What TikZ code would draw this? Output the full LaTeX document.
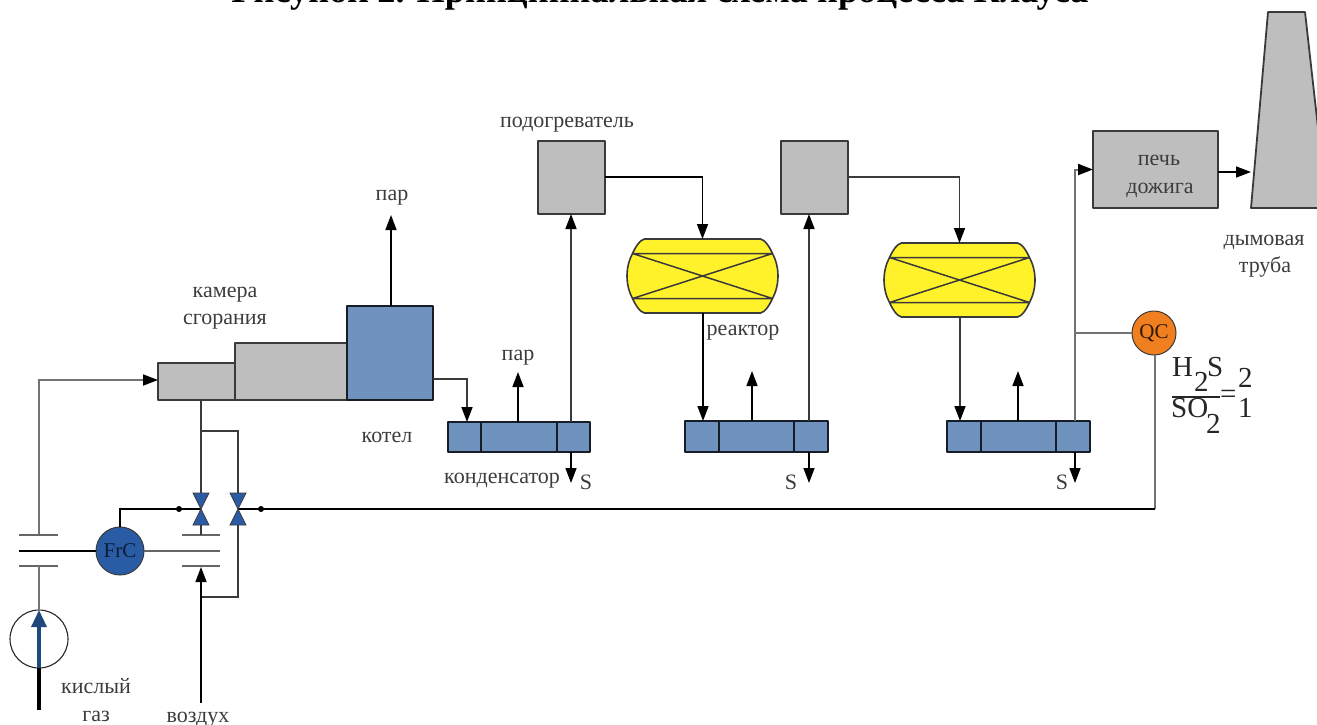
\documentclass[tikz,border=0pt]{standalone}
\usepackage{fontspec}
\setmainfont{Liberation Serif}
\usetikzlibrary{arrows.meta,calc}
\definecolor{boxgray}{HTML}{BEBEBE}
\definecolor{boxblue}{HTML}{6F92BE}
\definecolor{frcblue}{HTML}{2A5CA6}
\definecolor{pumpblue}{HTML}{1F497D}
\definecolor{reactyellow}{HTML}{FFF22A}
\definecolor{qcorange}{HTML}{F07F20}
\definecolor{inkgray}{HTML}{3A3A3A}
\definecolor{txtgray}{HTML}{3C3C3C}
\tikzset{
  unit/.style={draw=inkgray,line width=1.8pt,inner sep=0pt,outer sep=0pt,line join=round},
  graybox/.style={unit,fill=boxgray},
  bluebox/.style={unit,fill=boxblue,draw=black!80!boxblue},
  lbl/.style={font=\fontsize{22}{24}\selectfont,text=txtgray,inner sep=0pt,anchor=base},
  flow/.style={draw=black,line width=1.5pt},
  darkflow/.style={draw=inkgray,line width=1.6pt},
  grayflow/.style={draw=black!55,line width=2pt},
  tip/.style={-{Triangle[length=15pt,width=11pt,color=black]}},
  plate/.style={draw=black!60,line width=2pt},
  dotmark/.style={circle,fill=black,inner sep=0pt,minimum size=6pt},
  formula/.style={font=\fontsize{29}{30}\selectfont,text=black!85,inner sep=0pt,anchor=base west},
}
\newcommand{\rectnode}[6]{% style name x1 y1 x2 y2
  \pgfmathsetmacro{\rcx}{(#3+#5)/2}\pgfmathsetmacro{\rcy}{(#4+#6)/2}
  \pgfmathsetmacro{\rw}{#5-#3}\pgfmathsetmacro{\rh}{#6-#4}
  \node[#1,minimum width=\rw pt,minimum height=\rh pt] (#2) at (\rcx,\rcy) {};}
\newcommand{\reactorshape}[3]{% name cx cy
  \node[minimum width=151pt,minimum height=74pt,inner sep=0pt,outer sep=0pt] (#1) at (#2,#3) {};
  \begin{scope}[shift={(#2,#3)}]
  \draw[draw=inkgray,line width=1.6pt,fill=reactyellow] (-58,-37) -- (58,-37)
    .. controls (63,-36) and (67,-29) .. (70,-22.5)
    .. controls (73.5,-16) and (75.5,-8) .. (75.5,0)
    .. controls (75.5,8) and (73.5,16) .. (70,22.5)
    .. controls (67,29) and (63,36) .. (58,37) -- (-58,37)
    .. controls (-63,36) and (-67,29) .. (-70,22.5)
    .. controls (-73.5,16) and (-75.5,8) .. (-75.5,0)
    .. controls (-75.5,-8) and (-73.5,-16) .. (-70,-22.5)
    .. controls (-67,-29) and (-63,-36) .. (-58,-37) -- cycle;
  \draw[draw=inkgray,line width=1.5pt] (-70,-22.5) -- (70,-22.5) (-70,22.5) -- (70,22.5)
    (-70,-22.5) -- (70,22.5) (-70,22.5) -- (70,-22.5);
  \end{scope}}
\newcommand{\valveshape}[3]{% name cx cy
  \node[minimum width=16pt,minimum height=32pt,inner sep=0pt,outer sep=0pt] (#1) at (#2,#3) {};
  \begin{scope}[shift={(#2,#3)}]
  \fill[frcblue,draw=inkgray,line width=.7pt] (-8,-16) -- (8,-16) -- (0,0) -- cycle;
  \fill[frcblue,draw=inkgray,line width=.7pt] (-8,16) -- (8,16) -- (0,0) -- cycle;
  \end{scope}}
\begin{document}
\begin{tikzpicture}[x=1pt,y=-1pt]
\useasboundingbox (0,0) rectangle (1317,724);
% title
\node[anchor=base,inner sep=0pt,font=\bfseries\fontsize{36.3}{38}\selectfont] (title) at (660,2.5) {Рисунок 2. Принципиальная схема процесса Клауса};
% units
\rectnode{graybox}{ch1}{158}{363}{235}{400}
\rectnode{graybox}{ch2}{235}{343}{347}{400}
\rectnode{bluebox}{boil}{347}{306}{433}{400}
\rectnode{graybox}{ph1}{538}{141}{605}{214}
\rectnode{graybox}{ph2}{781}{141}{848}{214}
\rectnode{graybox}{burn}{1093}{131}{1218}{208}
\rectnode{bluebox}{c1}{448}{422}{590}{452}
\rectnode{bluebox}{c2}{685}{421}{828}{452}
\rectnode{bluebox}{c3}{947}{421}{1090}{452}
\foreach \x in {481,557} {\draw[draw=black!80!boxblue,line width=1.6pt] (\x,422) -- (\x,452);}
\foreach \x in {719,794} {\draw[draw=black!80!boxblue,line width=1.6pt] (\x,421) -- (\x,452);}
\foreach \x in {981,1056} {\draw[draw=black!80!boxblue,line width=1.6pt] (\x,421) -- (\x,452);}
\reactorshape{r1}{702.5}{276}
\reactorshape{r2}{959.5}{280}
% stack
\draw[draw=inkgray,line width=1.8pt,fill=boxgray,line join=round] (1268,12) -- (1305,12) -- (1327,208) -- (1251,208) -- cycle;
\coordinate (stackin) at (1251,172);
% named points
\coordinate (boilout) at (433,379);
\coordinate (c1in) at (467,422);
\coordinate (c2in) at (703,421);
\coordinate (c3in) at (960,421);
\coordinate (c1up) at (518,422);
\coordinate (c1upend) at (518,372);
\coordinate (c2up) at (752,421);
\coordinate (c2upend) at (752,371);
\coordinate (c3up) at (1018,421);
\coordinate (c3upend) at (1018,371);
\coordinate (p1x) at (571,422);
\coordinate (p2x) at (809,421);
\coordinate (p3x) at (1075,421);
\coordinate (s1) at (571,483);
\coordinate (s2) at (809,483);
\coordinate (s3) at (1075,483);
\coordinate (ph1out) at (605,177);
\coordinate (ph2out) at (848,177);
\coordinate (steamend) at (391,215);
\coordinate (qctap) at (1075,333);
\coordinate (sigcorner) at (1155,509);
\coordinate (gasin) at (39,380);
\coordinate (gasknee) at (143,380);
\coordinate (gastop) at (39,534);
\coordinate (gaslow) at (39,566);
\coordinate (gasbot) at (39,710);
\coordinate (gasmid) at (39,668);
\coordinate (gastip) at (39,610);
\coordinate (airbot) at (201,703);
\coordinate (airtip) at (201,567);
\coordinate (airtap) at (201,597);
\coordinate (burntap) at (201,431);
\coordinate (ch1low) at (201,400);
\coordinate (plate2top) at (201,535);
\coordinate (frcup) at (120,509);
% instruments
\node[circle,draw=inkgray,line width=1pt,fill=frcblue,minimum size=48pt,inner sep=0pt,outer sep=0pt,font=\fontsize{21}{22}\selectfont,text=black!70!frcblue] (frc) at (120,551) {FrC};
\node[circle,draw=inkgray,line width=1pt,fill=qcorange,minimum size=44pt,inner sep=0pt,outer sep=0pt,font=\fontsize{21}{22}\selectfont,text=black!80!qcorange] (qc) at (1154,333) {QC};
\node[circle,draw=black!85,line width=1.1pt,minimum size=58pt,inner sep=0pt,outer sep=0pt] (pump) at (39,639) {};
% orifice plates
\coordinate (a1) at (19,535); \coordinate (a2) at (58,535);
\coordinate (a3) at (19,566); \coordinate (a4) at (58,566);
\coordinate (a5) at (19,551);
\coordinate (b1) at (182,535); \coordinate (b2) at (220,535);
\coordinate (b3) at (182,566); \coordinate (b4) at (220,566);
\coordinate (b5) at (220,551);
\draw[plate] (a1) -- (a2) (a3) -- (a4) (b1) -- (b2) (b3) -- (b4);
\draw[draw=black,line width=1.5pt] (a5) -- (frc.west);
\draw[plate] (frc.east) -- (b5);
% connectors
\draw[flow,tip] (boil.north -| steamend) -- (steamend);
\draw[darkflow,tip] (boilout) -| (c1in);
\draw[flow,tip] (c1up) -- (c1upend);
\draw[darkflow,tip] (p1x) -- (ph1.south -| p1x);
\draw[flow,tip] (c1.south -| p1x) -- (s1);
\draw[flow,tip] (ph1out) -| (r1.north);
\draw[flow,tip] (r1.south -| c2in) -- (c2in);
\draw[flow,tip] (c2up) -- (c2upend);
\draw[darkflow,tip] (p2x) -- (ph2.south -| p2x);
\draw[flow,tip] (c2.south -| p2x) -- (s2);
\draw[darkflow,tip] (ph2out) -| (r2.north);
\draw[darkflow,tip] (r2.south -| c3in) -- (c3in);
\draw[flow,tip] (c3up) -- (c3upend);
\draw[grayflow,tip] (p3x) |- (burn.west);
\draw[flow,tip] (c3.south -| p3x) -- (s3);
\draw[flow,tip] (burn.east |- stackin) -- (stackin);
\draw[grayflow] (qctap) -- (qc.west);
\draw[grayflow] (qc.south -| sigcorner) -- (sigcorner);
\draw[draw=black,line width=1.6pt] (sigcorner) -- (238,509);
\node[dotmark] (dot2) at (261,509) {};
\draw[flow] (frc.north) -- (frcup) -- (201,509);
\node[dotmark] (dot1) at (179,509) {};
\draw[grayflow,line width=1.8pt] (gastop) |- (gasknee);
\draw[grayflow,line width=1.8pt,tip] (gasknee) -- (ch1.west |- gasin);
\draw[grayflow,line width=1.6pt] (gaslow) -- (pump.north);
\draw[darkflow] (ch1low) -- (201,493);
\draw[darkflow] (burntap) -| (238,493);
\draw[darkflow] (201,525) -- (plate2top);
\draw[darkflow] (238,525) |- (airtap);
\draw[flow,tip] (airbot) -- (airtip);
\valveshape{v1}{201}{509}
\valveshape{v2}{238}{509}
% feed pump stream
\draw[draw=black,line width=3.2pt] (gasbot) -- (gasmid);
\draw[draw=pumpblue,line width=3.4pt,-{Triangle[length=17pt,width=15pt]}] (gasmid) -- (gastip);
% labels
\node[lbl] (l1) at (392,200) {пар};
\node[lbl] (l2) at (225,297) {камера};
\node[lbl] (l2b) at (225,324) {сгорания};
\node[lbl] (l3) at (387,442) {котел};
\node[lbl] (l4) at (518,360) {пар};
\node[lbl] (l5) at (567,127) {подогреватель};
\node[lbl] (l6) at (502,483) {конденсатор};
\node[lbl] (l7) at (743,335) {реактор};
\node[lbl] (l8) at (1159,165) {печь};
\node[lbl] (l8b) at (1160,193) {дожига};
\node[lbl] (l9) at (1264,245) {дымовая};
\node[lbl] (l9b) at (1265,272) {труба};
\node[lbl] (l10) at (96,693) {кислый};
\node[lbl] (l11) at (96,721) {газ};
\node[lbl] (l12) at (198,722) {воздух};
\node[lbl] (s1l) at (586,489) {S};
\node[lbl] (s2l) at (791,489) {S};
\node[lbl] (s3l) at (1062,489) {S};
% formula
\node[formula] (fH) at (1172,376) {H};
\node[formula] (f2a) at (1194,391) {2};
\node[formula] (fS) at (1207,376) {S};
\node[formula] (fSO) at (1171,417) {SO};
\node[formula] (f2b) at (1206,433) {2};
\node[formula] (fe) at (1220,403) {=};
\node[formula] (f2c) at (1238,387) {2};
\node[formula] (f1) at (1238,417) {1};
\coordinate (fa) at (1172,397);
\coordinate (fb) at (1220,397);
\draw[draw=black!85,line width=1.2pt] (fa) -- (fb);
\end{tikzpicture}
\end{document}
